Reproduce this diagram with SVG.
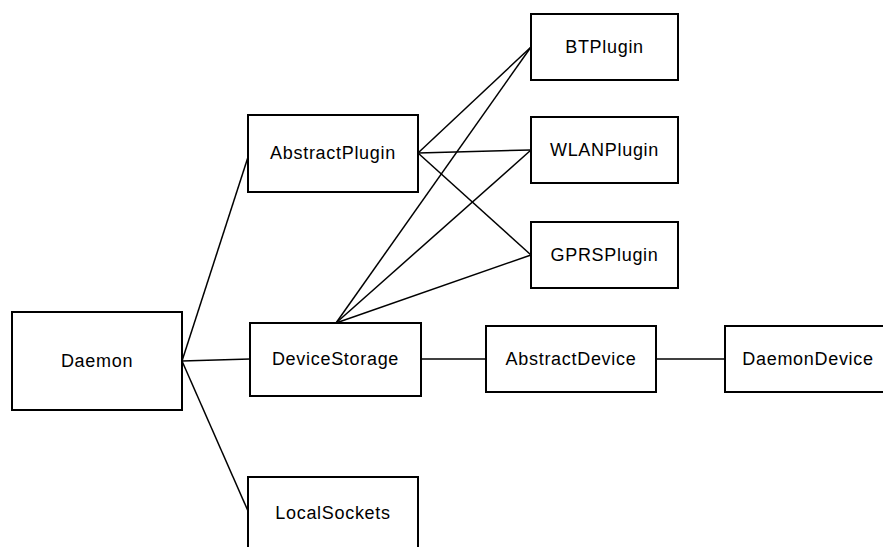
<svg xmlns="http://www.w3.org/2000/svg" width="883" height="547" viewBox="0 0 883 547">
<style>
.n rect{fill:#fff;stroke:#000;stroke-width:2}
.n text{font-family:"Liberation Sans",Arial,sans-serif;font-size:18px;letter-spacing:0.7px;text-anchor:middle;fill:#000}
#edges line{stroke:#000;stroke-width:1.5}
</style>
<rect width="883" height="547" fill="#fff"/>
<g id="edges">
<line x1="182" y1="361" x2="249" y2="154"/>
<line x1="182" y1="361" x2="250" y2="359"/>
<line x1="182" y1="361" x2="248" y2="511"/>
<line x1="418" y1="153" x2="531" y2="47"/>
<line x1="418" y1="153" x2="531" y2="150"/>
<line x1="418" y1="153" x2="531" y2="255"/>
<line x1="336" y1="323" x2="531" y2="47"/>
<line x1="336" y1="323" x2="531" y2="150"/>
<line x1="336" y1="323" x2="531" y2="255"/>
<line x1="421" y1="359" x2="486" y2="359"/>
<line x1="656" y1="359" x2="725" y2="359"/>
</g>
<g id="Daemon" class="n"><rect x="12" y="312" width="170" height="98"/><text x="97" y="367">Daemon</text></g>
<g id="AbstractPlugin" class="n"><rect x="248" y="115" width="170" height="77"/><text x="333" y="159">AbstractPlugin</text></g>
<g id="BTPlugin" class="n"><rect x="531" y="14" width="147" height="66"/><text x="604.5" y="53">BTPlugin</text></g>
<g id="WLANPlugin" class="n"><rect x="531" y="117" width="147" height="66"/><text x="604.5" y="156">WLANPlugin</text></g>
<g id="GPRSPlugin" class="n"><rect x="531" y="222" width="147" height="66"/><text x="604.5" y="261">GPRSPlugin</text></g>
<g id="DeviceStorage" class="n"><rect x="250" y="323" width="171" height="73"/><text x="335.5" y="365">DeviceStorage</text></g>
<g id="AbstractDevice" class="n"><rect x="486" y="326" width="170" height="66"/><text x="571" y="365">AbstractDevice</text></g>
<g id="DaemonDevice" class="n"><rect x="725" y="326" width="170" height="66"/><text x="808" y="365">DaemonDevice</text></g>
<g id="LocalSockets" class="n"><rect x="248" y="477" width="170" height="80"/><text x="333" y="519">LocalSockets</text></g>
</svg>
